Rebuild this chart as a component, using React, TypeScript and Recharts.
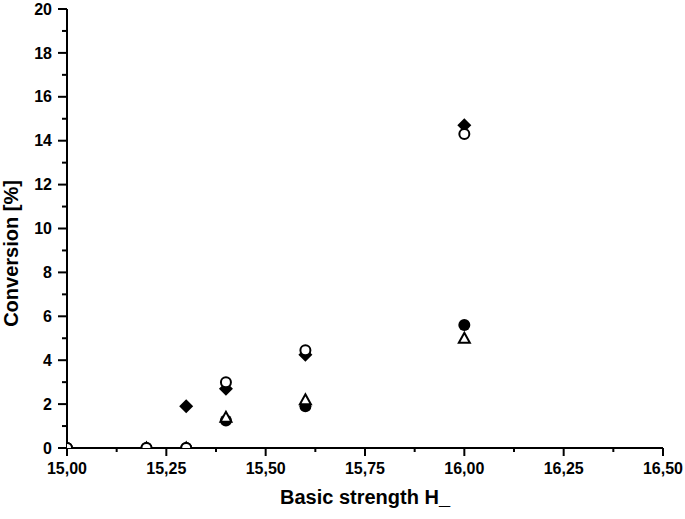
import React from 'react';
import { ScatterChart, Scatter, XAxis, YAxis } from 'recharts';

// Tick values
const xMajorTicks = [15.0, 15.25, 15.5, 15.75, 16.0, 16.25, 16.5];
const xMinorTicks = [15.125, 15.375, 15.625, 15.875, 16.125, 16.375];
const yMajorTicks = [0, 2, 4, 6, 8, 10, 12, 14, 16, 18, 20];
const yMinorTicks = [1, 3, 5, 7, 9, 11, 13, 15, 17, 19];

// Series: filled circle
const filledCircleX = [15.0, 15.2, 15.3, 15.4, 15.6, 16.0];
const filledCircleY = [0, 0, 0, 1.25, 1.9, 5.6];
// Series: filled diamond
const diamondX = [15.3, 15.4, 15.6, 16.0];
const diamondY = [1.9, 2.7, 4.25, 14.7];
// Series: open triangle
const triangleX = [15.0, 15.2, 15.3, 15.4, 15.6, 16.0];
const triangleY = [0, 0, 0, 1.4, 2.2, 5.0];
// Series: open circle
const openCircleX = [15.0, 15.2, 15.3, 15.4, 15.6, 16.0];
const openCircleY = [0, 0, 0, 3.0, 4.45, 14.3];

const toPoints = (xs: number[], ys: number[]) => xs.map((x, i) => ({ x, y: ys[i] }));

const filledCircleData = toPoints(filledCircleX, filledCircleY);
const diamondData = toPoints(diamondX, diamondY);
const triangleData = toPoints(triangleX, triangleY);
const openCircleData = toPoints(openCircleX, openCircleY);

const xTicks = [...xMajorTicks, ...xMinorTicks].sort((a, b) => a - b);
const yTicks = [...yMajorTicks, ...yMinorTicks].sort((a, b) => a - b);

const FONT = 'Liberation Sans, Arial, sans-serif';

const isIn = (arr: number[], v: number) => arr.some((t) => Math.abs(t - v) < 1e-6);
const fmtX = (v: number) => v.toFixed(2).replace('.', ',');

const labelStyle = { fontFamily: FONT, fontWeight: 700, fontSize: 16, fill: '#000' } as const;
const titleStyle = { fontFamily: FONT, fontWeight: 700, fontSize: 20, fill: '#000' } as const;

const XTick = (props: any) => {
  const { x, y, payload } = props;
  const v = payload.value;
  const major = isIn(xMajorTicks, v);
  return (
    <g>
      <line x1={x} x2={x} y1={y} y2={y + (major ? 8 : 4)} stroke="#000" strokeWidth={2} />
      {major && (
        <text x={x} y={y + 15} dy="0.71em" textAnchor="middle" style={labelStyle}>
          {fmtX(v)}
        </text>
      )}
    </g>
  );
};

const YTick = (props: any) => {
  const { x, y, payload } = props;
  const v = payload.value;
  const major = isIn(yMajorTicks, v);
  return (
    <g>
      <line x1={x} x2={x - (major ? 9 : 5)} y1={y} y2={y} stroke="#000" strokeWidth={2} />
      {major && (
        <text x={x - 15} y={y} dy="0.355em" textAnchor="end" style={labelStyle}>
          {String(v)}
        </text>
      )}
    </g>
  );
};

const FilledCircle = (p: any) => <circle cx={p.cx} cy={p.cy} r={6} fill="#000" />;
const OpenCircle = (p: any) => <circle cx={p.cx} cy={p.cy} r={5} fill="#fff" stroke="#000" strokeWidth={2} />;
const Diamond = (p: any) => (
  <path d={`M${p.cx},${p.cy - 7}L${p.cx + 7},${p.cy}L${p.cx},${p.cy + 7}L${p.cx - 7},${p.cy}Z`} fill="#000" />
);
const Triangle = (p: any) => (
  <path
    d={`M${p.cx},${p.cy - 5.5}L${p.cx + 5.5},${p.cy + 4.5}L${p.cx - 5.5},${p.cy + 4.5}Z`}
    fill="#fff"
    stroke="#000"
    strokeWidth={2}
    strokeLinejoin="miter"
  />
);

const XTitle = (props: any) => {
  const { viewBox } = props;
  const { x, y, width, height } = viewBox;
  return (
    <text x={x + width / 2} y={y + height - 15} textAnchor="middle" style={titleStyle}>
      Basic strength H_
    </text>
  );
};

const YTitle = (props: any) => {
  const { viewBox } = props;
  const { x, y, height } = viewBox;
  const cx = x + 18;
  const cy = y + height / 2 + 25;
  return (
    <text x={cx} y={cy} transform={`rotate(-90, ${cx}, ${cy})`} textAnchor="middle" style={titleStyle}>
      Conversion [%]
    </text>
  );
};

export default function App() {
  return (
    <div style={{ position: 'absolute', left: 0, top: 0, width: 685, height: 519, background: '#fff' }}>
      <ScatterChart
        width={685}
        height={519}
        margin={{ top: 9, right: 22, left: 0, bottom: 0 }}
        style={{ overflow: 'visible' }}
      >
        <XAxis
          type="number"
          dataKey="x"
          domain={[15, 16.5]}
          ticks={xTicks}
          interval={0}
          allowDataOverflow
          height={71}
          tickSize={0}
          tickMargin={0}
          tickLine={false}
          axisLine={{ stroke: '#000', strokeWidth: 2 }}
          tick={<XTick />}
          label={{ content: <XTitle /> }}
        />
        <YAxis
          type="number"
          dataKey="y"
          domain={[0, 20]}
          ticks={yTicks}
          interval={0}
          allowDataOverflow
          width={67}
          tickSize={0}
          tickMargin={0}
          tickLine={false}
          axisLine={{ stroke: '#000', strokeWidth: 2 }}
          tick={<YTick />}
          label={{ content: <YTitle /> }}
        />
        <Scatter data={filledCircleData} shape={<FilledCircle />} isAnimationActive={false} />
        <Scatter data={diamondData} shape={<Diamond />} isAnimationActive={false} />
        <Scatter data={triangleData} shape={<Triangle />} isAnimationActive={false} />
        <Scatter data={openCircleData} shape={<OpenCircle />} isAnimationActive={false} />
      </ScatterChart>
    </div>
  );
}
